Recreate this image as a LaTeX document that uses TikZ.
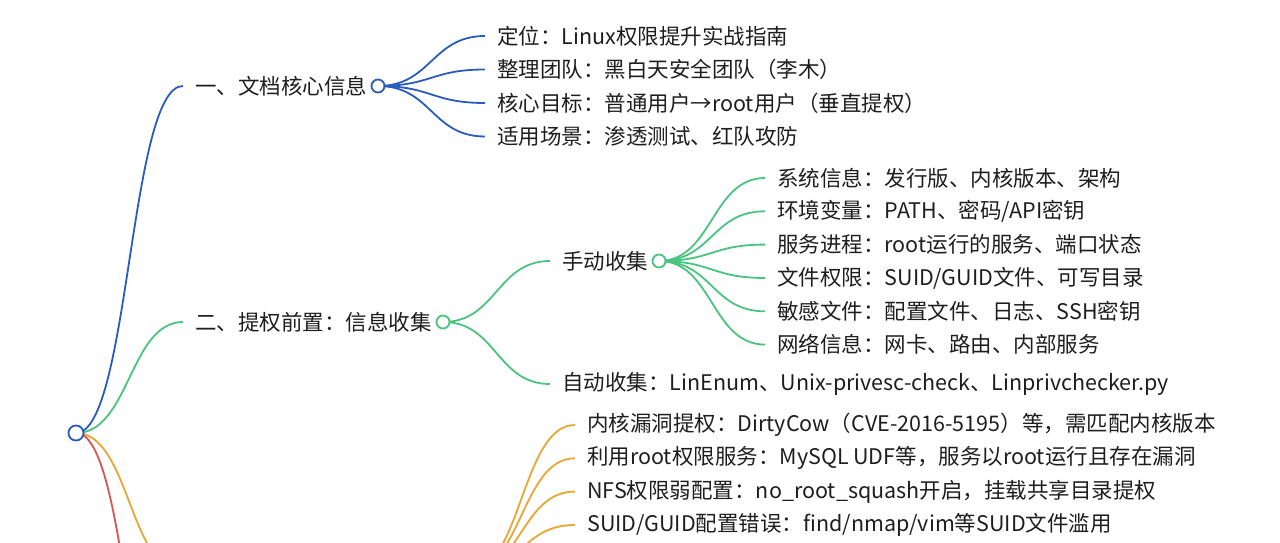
\documentclass[tikz,border=0pt]{standalone}
\usepackage{fontspec}
\setmainfont{Noto Sans CJK SC}
\usetikzlibrary{backgrounds}
\definecolor{mapblue}{RGB}{42,92,190}
\definecolor{mapgreen}{RGB}{72,196,126}
\definecolor{maporange}{RGB}{232,166,52}
\definecolor{mapred}{RGB}{218,84,80}
\definecolor{ink}{RGB}{30,30,30}
\tikzset{
 topic/.style={
 anchor=west,
 inner xsep=12pt,
 inner ysep=2pt,
 text=ink,
 font=\fontsize{21.5}{25}\selectfont
 },
 knob/.style={
 circle,
 draw=#1,
 fill=white,
 line width=1.8pt,
 minimum size=13pt,
 inner sep=0pt
 },
 link/.style={line width=1.8pt, draw=#1},
 sweep/.style={to path={.. controls +(53.5,0) and +(-53.5,0) .. (\tikztotarget)}}
}

\begin{document}
\begin{tikzpicture}[x=1pt,y=-1pt]
 \useasboundingbox (0,0) rectangle (1280,543);
 \clip (0,0) rectangle (1280,543);
 \node[knob=mapblue, minimum size=15pt] (root) at (76,433) {};
 \node[topic] (docinfo) at (183,86) {一、文档核心信息};
 \node[knob=mapblue] (docknob) at (378,86) {};
 \node[topic] (target) at (485,36) {定位：Linux权限提升实战指南};
 \node[topic] (team) at (485,69.5) {整理团队：黑白天安全团队（李木）};
 \node[topic] (goal) at (485,103) {核心目标：普通用户→root用户（垂直提权）};
 \node[topic] (scene) at (485,136.5) {适用场景：渗透测试、红队攻防};
 \node[topic] (recon) at (183,322) {二、提权前置：信息收集};
 \node[knob=mapgreen] (reconknob) at (443,322) {};
 \node[topic] (manual) at (550,261) {手动收集};
 \node[knob=mapgreen] (manualknob) at (659,261) {};
 \node[topic] (sysinfo) at (765,178) {系统信息：发行版、内核版本、架构};
 \node[topic] (envvar) at (765,211.3) {环境变量：PATH、密码/API密钥};
 \node[topic] (procs) at (765,244.6) {服务进程：root运行的服务、端口状态};
 \node[topic] (perms) at (765,278) {文件权限：SUID/GUID文件、可写目录};
 \node[topic] (secrets) at (765,311.3) {敏感文件：配置文件、日志、SSH密钥};
 \node[topic] (netinfo) at (765,344.6) {网络信息：网卡、路由、内部服务};
 \node[topic] (auto) at (550,384) {自动收集：LinEnum、Unix-privesc-check、Linprivchecker.py};
 \coordinate (exploit) at (183,572);
 \coordinate (exploitknob) at (468,572);
 \coordinate (redend) at (183,782);
 \node[topic] (kernel) at (575,425) {内核漏洞提权：DirtyCow（CVE-2016-5195）等，需匹配内核版本};
 \node[topic] (rootsvc) at (575,458.3) {利用root权限服务：MySQL UDF等，服务以root运行且存在漏洞};
 \node[topic] (nfs) at (575,491.6) {NFS权限弱配置：no\_root\_squash开启，挂载共享目录提权};
 \node[topic] (suid) at (575,525) {SUID/GUID配置错误：find/nmap/vim等SUID文件滥用};
 \begin{scope}[on background layer]
 \draw[link=mapblue] (root.center) to[sweep] (docinfo.west);
 \draw[link=mapgreen] (root.center) to[sweep] (recon.west);
 \draw[link=maporange] (root.center) to[sweep] (exploit);
 \draw[link=mapred] (root.center) to[sweep] (redend);
 \draw[link=mapblue] (docknob.center) to[sweep] (target.west);
 \draw[link=mapblue] (docknob.center) to[sweep] (team.west);
 \draw[link=mapblue] (docknob.center) to[sweep] (goal.west);
 \draw[link=mapblue] (docknob.center) to[sweep] (scene.west);
 \draw[link=mapgreen] (reconknob.center) to[sweep] (manual.west);
 \draw[link=mapgreen] (reconknob.center) to[sweep] (auto.west);
 \draw[link=mapgreen] (manualknob.center) to[sweep] (sysinfo.west);
 \draw[link=mapgreen] (manualknob.center) to[sweep] (envvar.west);
 \draw[link=mapgreen] (manualknob.center) to[sweep] (procs.west);
 \draw[link=mapgreen] (manualknob.center) to[sweep] (perms.west);
 \draw[link=mapgreen] (manualknob.center) to[sweep] (secrets.west);
 \draw[link=mapgreen] (manualknob.center) to[sweep] (netinfo.west);
 \draw[link=maporange] (exploitknob) to[sweep] (kernel.west);
 \draw[link=maporange] (exploitknob) to[sweep] (rootsvc.west);
 \draw[link=maporange] (exploitknob) to[sweep] (nfs.west);
 \draw[link=maporange] (exploitknob) to[sweep] (suid.west);
 \end{scope}
\end{tikzpicture}
\end{document}
